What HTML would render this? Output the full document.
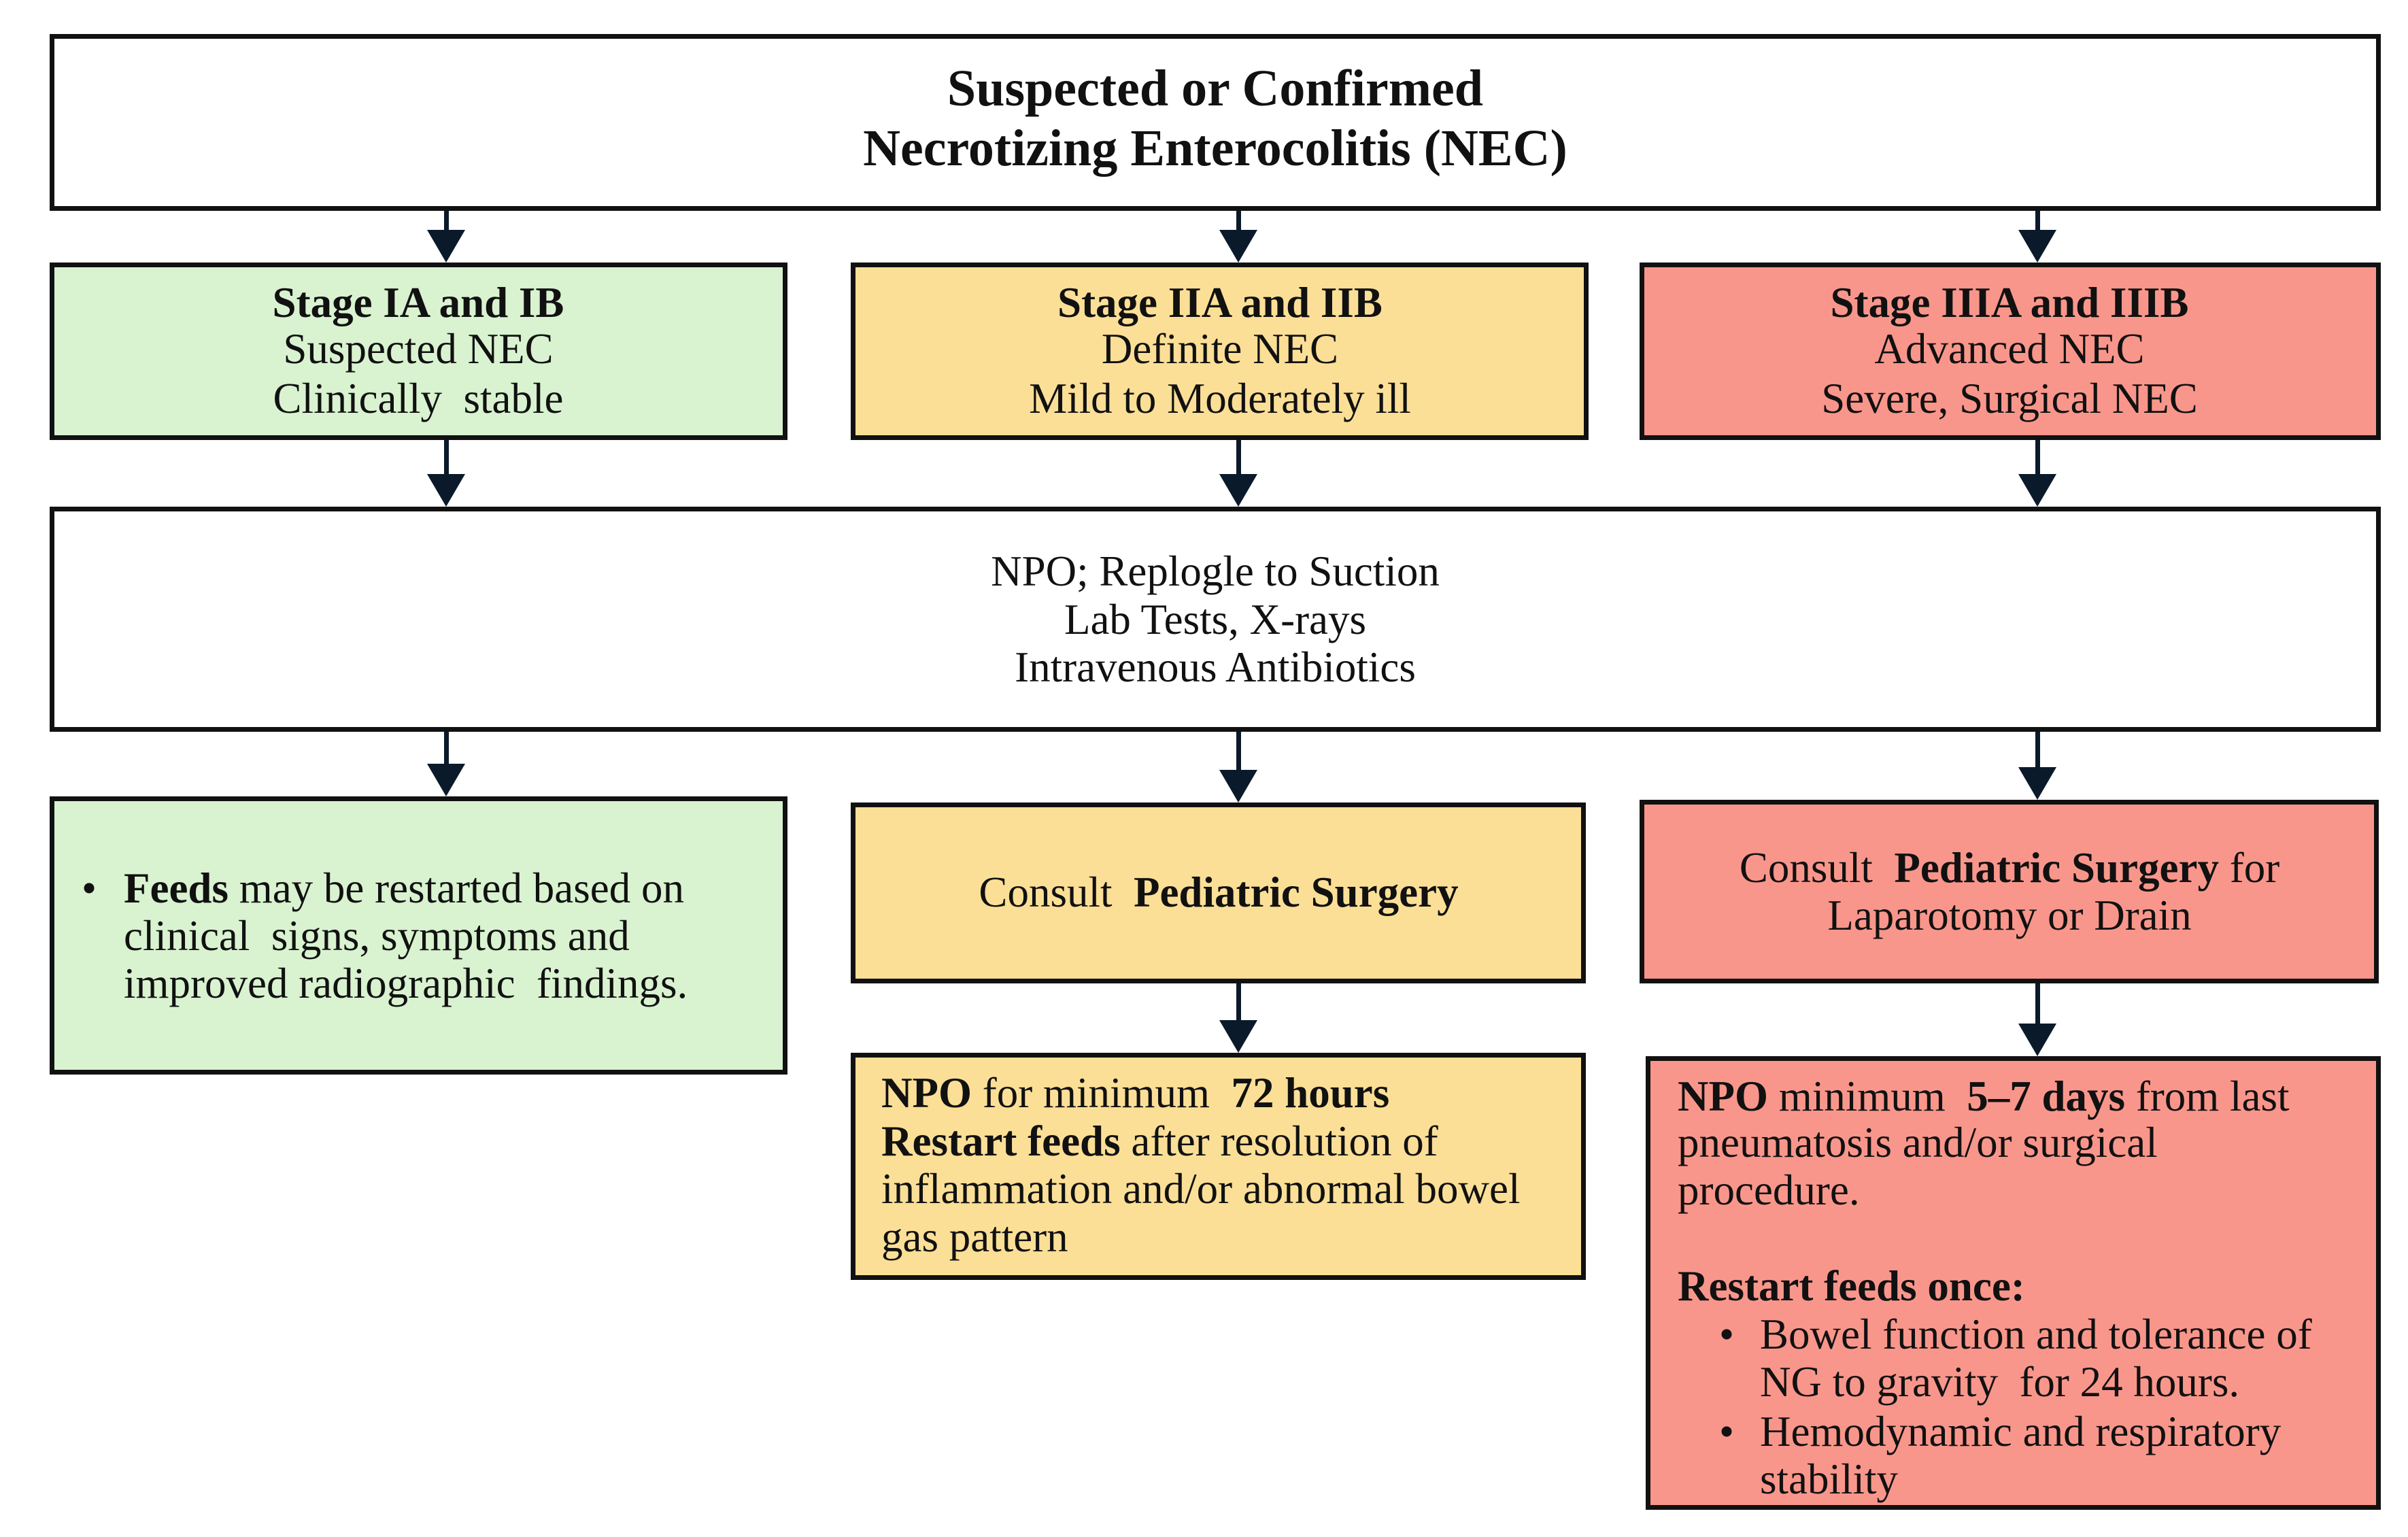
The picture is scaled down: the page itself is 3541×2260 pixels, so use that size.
<!DOCTYPE html>
<html><head><meta charset="utf-8"><style>
body{margin:0;width:3541px;height:2260px;background:#fff;position:relative;overflow:hidden;font-family:"Liberation Serif",serif;color:#111}
.b{position:absolute;border:7px solid #111;box-sizing:border-box}
.g{background:#d9f2d0}.y{background:#fbdf97}.r{background:#f9968b}.w{background:#fff}
.t{position:absolute;height:70px;line-height:70px;font-size:63px;white-space:nowrap}
.c{transform:translateX(-50%)}
.h{font-size:76px;font-weight:bold;height:80px;line-height:80px}
b{font-weight:bold}
.ln{position:absolute;width:7px;background:#0a1a2a}
.ar{position:absolute;width:0;height:0;border-left:28px solid transparent;border-right:28px solid transparent;border-top:48px solid #0a1a2a}
</style></head><body>

<div class="b w" style="left:73px;top:50px;width:3428px;height:260px"></div>
<div class="b g" style="left:73px;top:386px;width:1085px;height:261px"></div>
<div class="b y" style="left:1251px;top:386px;width:1085px;height:261px"></div>
<div class="b r" style="left:2411px;top:386px;width:1090px;height:261px"></div>
<div class="b w" style="left:73px;top:745px;width:3428px;height:331px"></div>
<div class="b g" style="left:73px;top:1171px;width:1085px;height:409px"></div>
<div class="b y" style="left:1251px;top:1180px;width:1081px;height:266px"></div>
<div class="b r" style="left:2411px;top:1176px;width:1087px;height:270px"></div>
<div class="b y" style="left:1251px;top:1548px;width:1081px;height:334px"></div>
<div class="b r" style="left:2420px;top:1553px;width:1081px;height:667px"></div>

<div class="ln" style="left:653px;top:310px;height:30px"></div><div class="ar" style="left:628px;top:338px"></div>
<div class="ln" style="left:1818px;top:310px;height:30px"></div><div class="ar" style="left:1793px;top:338px"></div>
<div class="ln" style="left:2993px;top:310px;height:30px"></div><div class="ar" style="left:2968px;top:338px"></div>

<div class="ln" style="left:653px;top:647px;height:50px"></div><div class="ar" style="left:628px;top:697px"></div>
<div class="ln" style="left:1818px;top:647px;height:50px"></div><div class="ar" style="left:1793px;top:697px"></div>
<div class="ln" style="left:2993px;top:647px;height:50px"></div><div class="ar" style="left:2968px;top:697px"></div>

<div class="ln" style="left:653px;top:1076px;height:48px"></div><div class="ar" style="left:628px;top:1123px"></div>
<div class="ln" style="left:1818px;top:1076px;height:56px"></div><div class="ar" style="left:1793px;top:1132px"></div>
<div class="ln" style="left:2993px;top:1076px;height:52px"></div><div class="ar" style="left:2968px;top:1128px"></div>

<div class="ln" style="left:1818px;top:1446px;height:54px"></div><div class="ar" style="left:1793px;top:1500px"></div>
<div class="ln" style="left:2993px;top:1446px;height:59px"></div><div class="ar" style="left:2968px;top:1505px"></div>

<div class="t c h" style="left:1787px;top:90px">Suspected or Confirmed</div>
<div class="t c h" style="left:1787px;top:178px">Necrotizing Enterocolitis (NEC)</div>

<div class="t c" style="left:615px;top:410px"><b>Stage IA and IB</b></div>
<div class="t c" style="left:615px;top:478px">Suspected NEC</div>
<div class="t c" style="left:615px;top:551px">Clinically&nbsp; stable</div>
<div class="t c" style="left:1794px;top:410px"><b>Stage IIA and IIB</b></div>
<div class="t c" style="left:1794px;top:478px">Definite NEC</div>
<div class="t c" style="left:1794px;top:551px">Mild to Moderately ill</div>
<div class="t c" style="left:2955px;top:410px"><b>Stage IIIA and IIIB</b></div>
<div class="t c" style="left:2955px;top:478px">Advanced NEC</div>
<div class="t c" style="left:2955px;top:551px">Severe, Surgical NEC</div>

<div class="t c" style="left:1787px;top:805px">NPO; Replogle to Suction</div>
<div class="t c" style="left:1787px;top:876px">Lab Tests, X-rays</div>
<div class="t c" style="left:1787px;top:946px">Intravenous Antibiotics</div>

<div class="t" style="left:120px;top:1271px">•</div>
<div class="t" style="left:182px;top:1271px"><b>Feeds</b> may be restarted based on</div>
<div class="t" style="left:182px;top:1341px">clinical&nbsp; signs, symptoms and</div>
<div class="t" style="left:182px;top:1411px">improved radiographic&nbsp; findings.</div>

<div class="t c" style="left:1792px;top:1277px">Consult&nbsp; <b>Pediatric Surgery</b></div>
<div class="t" style="left:1296px;top:1572px"><b>NPO</b> for minimum&nbsp; <b>72 hours</b></div>
<div class="t" style="left:1296px;top:1643px"><b>Restart feeds</b> after resolution of</div>
<div class="t" style="left:1296px;top:1713px">inflammation and/or abnormal bowel</div>
<div class="t" style="left:1296px;top:1784px">gas pattern</div>

<div class="t c" style="left:2955px;top:1241px">Consult&nbsp; <b>Pediatric Surgery</b> for</div>
<div class="t c" style="left:2955px;top:1311px">Laparotomy or Drain</div>
<div class="t" style="left:2467px;top:1577px"><b>NPO</b> minimum&nbsp; <b>5–7 days</b> from last</div>
<div class="t" style="left:2467px;top:1645px">pneumatosis and/or surgical</div>
<div class="t" style="left:2467px;top:1715px">procedure.</div>
<div class="t" style="left:2467px;top:1856px"><b>Restart feeds once:</b></div>
<div class="t" style="left:2528px;top:1927px">•</div>
<div class="t" style="left:2588px;top:1927px">Bowel function and tolerance of</div>
<div class="t" style="left:2588px;top:1997px">NG to gravity&nbsp; for 24 hours.</div>
<div class="t" style="left:2528px;top:2070px">•</div>
<div class="t" style="left:2588px;top:2070px">Hemodynamic and respiratory</div>
<div class="t" style="left:2588px;top:2140px">stability</div>
</body></html>
